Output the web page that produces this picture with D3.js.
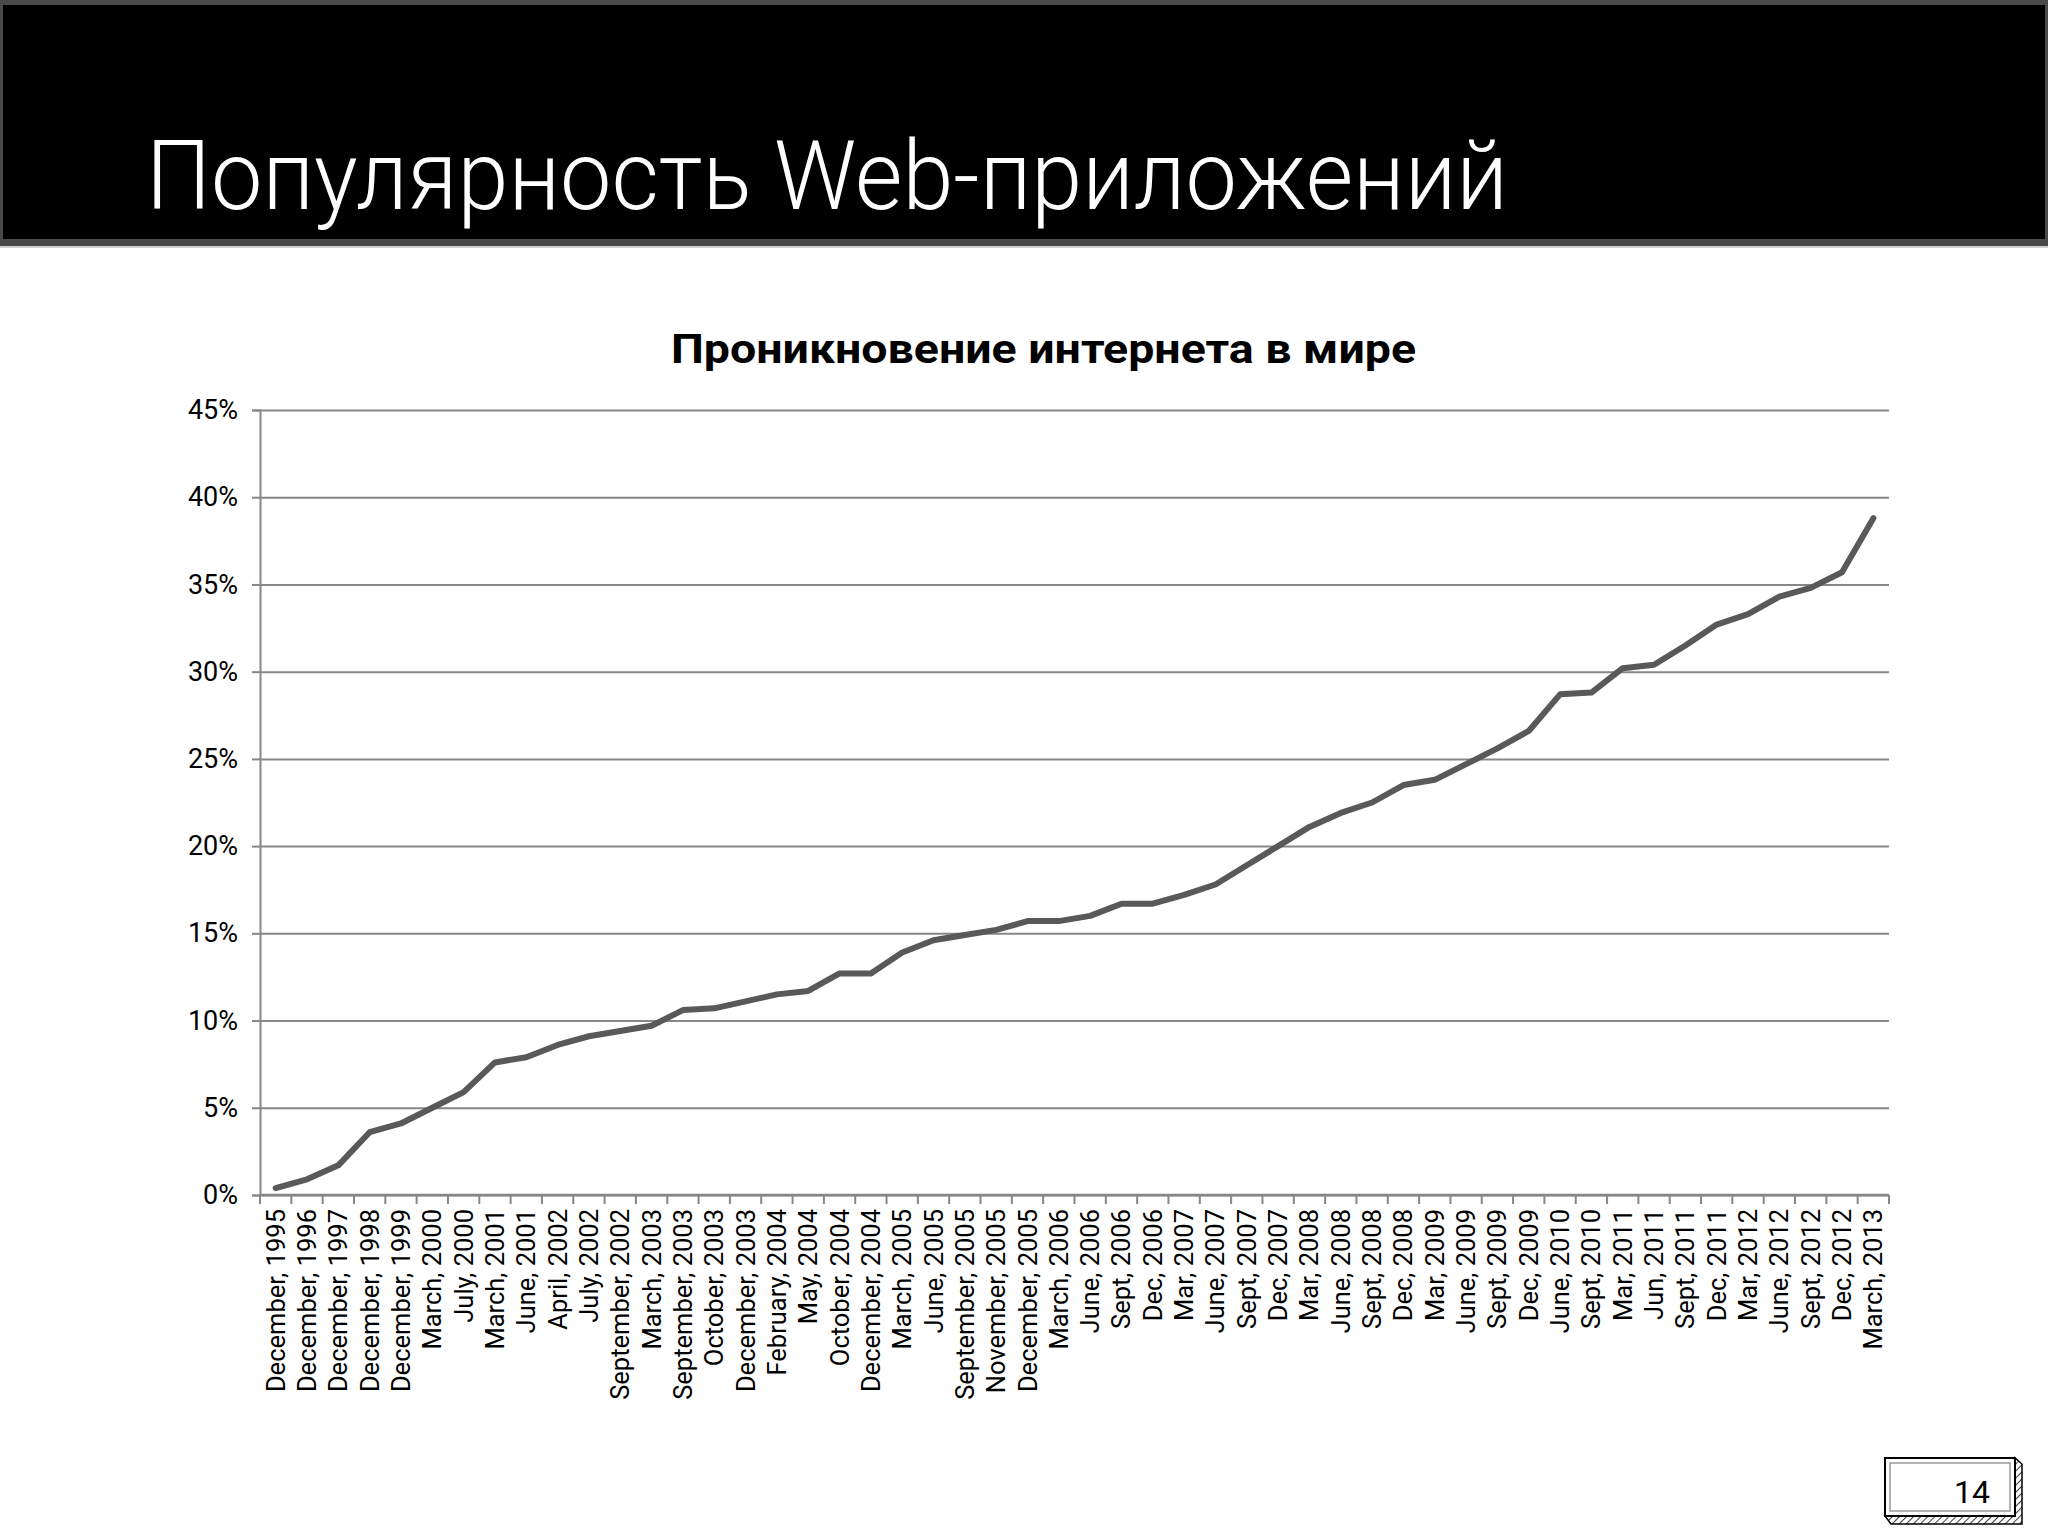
<!DOCTYPE html>
<html lang="ru">
<head>
<meta charset="utf-8">
<script src="https://d3js.org/d3.v7.min.js"></script>
<style>
  body { margin: 0; background: #fff; }
  svg { display: block; }
</style>
</head>
<body>
<svg id="chart"></svg>
<script>
// data
const slideTitle = "Популярность Web-приложений";
const chartTitle = "Проникновение интернета в мире";
const pageNumber = "14";

const dates = [
  "December, 1995", "December, 1996", "December, 1997", "December, 1998", "December, 1999",
  "March, 2000", "July, 2000", "March, 2001", "June, 2001", "April, 2002",
  "July, 2002", "September, 2002", "March, 2003", "September, 2003", "October, 2003",
  "December, 2003", "February, 2004", "May, 2004", "October, 2004", "December, 2004",
  "March, 2005", "June, 2005", "September, 2005", "November, 2005", "December, 2005",
  "March, 2006", "June, 2006", "Sept, 2006", "Dec, 2006", "Mar, 2007",
  "June, 2007", "Sept, 2007", "Dec, 2007", "Mar, 2008", "June, 2008",
  "Sept, 2008", "Dec, 2008", "Mar, 2009", "June, 2009", "Sept, 2009",
  "Dec, 2009", "June, 2010", "Sept, 2010", "Mar, 2011", "Jun, 2011",
  "Sept, 2011", "Dec, 2011", "Mar, 2012", "June, 2012", "Sept, 2012",
  "Dec, 2012", "March, 2013"
];

// percent of world population online
const penetration = [
  0.4, 0.9, 1.7, 3.6, 4.1,
  5.0, 5.9, 7.6, 7.9, 8.6,
  9.1, 9.4, 9.7, 10.6, 10.7,
  11.1, 11.5, 11.7, 12.7, 12.7,
  13.9, 14.6, 14.9, 15.2, 15.7,
  15.7, 16.0, 16.7, 16.7, 17.2,
  17.8, 18.9, 20.0, 21.1, 21.9,
  22.5, 23.5, 23.8, 24.7, 25.6,
  26.6, 28.7, 28.8, 30.2, 30.4,
  31.5, 32.7, 33.3, 34.3, 34.8,
  35.7, 38.8
];

const yTicks = [0, 5, 10, 15, 20, 25, 30, 35, 40, 45];

const W = 2048, H = 1536;
const plot = { left: 260, right: 1889, top: 410, bottom: 1195 };

const svg = d3.select("#chart").attr("width", W).attr("height", H);

// header banner
svg.append("rect").attr("x", 0).attr("y", 0).attr("width", W).attr("height", 246).attr("fill", "#4a4a4a");
svg.append("rect").attr("x", 3).attr("y", 5).attr("width", W - 6).attr("height", 234).attr("fill", "#000");
svg.append("line").attr("x1", 0).attr("x2", W).attr("y1", 247).attr("y2", 247)
  .attr("stroke", "#cfcfcf").attr("stroke-width", 2);

svg.append("text")
  .attr("x", 146).attr("y", 209)
  .attr("fill", "#fff")
  .attr("font-family", "Roboto, 'DejaVu Sans', sans-serif")
  .attr("font-weight", 300)
  .attr("font-size", 96)
  .attr("textLength", 1362)
  .attr("lengthAdjust", "spacingAndGlyphs")
  .text(slideTitle);

// chart title
svg.append("text")
  .attr("x", (670 + 1417) / 2).attr("y", 363)
  .attr("text-anchor", "middle")
  .attr("font-family", "Roboto, 'DejaVu Sans', sans-serif")
  .attr("font-weight", 700)
  .attr("font-size", 40)
  .attr("textLength", 745)
  .attr("lengthAdjust", "spacingAndGlyphs")
  .text(chartTitle);

const x = d3.scaleBand().domain(dates).range([plot.left, plot.right]);
const y = d3.scaleLinear().domain([0, 45]).range([plot.bottom, plot.top]);

const gridColor = "#878787";

// horizontal gridlines
svg.append("g")
  .attr("transform", `translate(${plot.left},0)`)
  .call(d3.axisLeft(y).tickValues(yTicks).tickSize(-(plot.right - plot.left)).tickFormat(""))
  .call(g => g.select(".domain").remove())
  .call(g => g.selectAll("line").attr("stroke", gridColor).attr("stroke-width", 2));

// y axis
svg.append("g")
  .attr("transform", `translate(${plot.left},0)`)
  .call(d3.axisLeft(y).tickValues(yTicks).tickSize(8).tickPadding(14).tickFormat(d => d + "%"))
  .call(g => g.select(".domain").attr("stroke", gridColor).attr("stroke-width", 2))
  .call(g => g.selectAll("line").attr("stroke", gridColor).attr("stroke-width", 2))
  .call(g => g.selectAll("text")
    .attr("fill", "#000")
    .attr("font-family", "Roboto, 'DejaVu Sans', sans-serif")
    .attr("font-size", 27));

// x axis, ticks on band boundaries
const xAxis = svg.append("g").attr("transform", `translate(0,${plot.bottom})`);
xAxis.append("line")
  .attr("x1", plot.left).attr("x2", plot.right)
  .attr("stroke", gridColor).attr("stroke-width", 2.5);
xAxis.selectAll(".tk")
  .data(dates.concat(["end"]))
  .join("line")
  .attr("class", "tk")
  .attr("x1", (d, i) => i < dates.length ? x(d) : plot.right)
  .attr("x2", (d, i) => i < dates.length ? x(d) : plot.right)
  .attr("y1", 0).attr("y2", 9)
  .attr("stroke", gridColor).attr("stroke-width", 2);
xAxis.selectAll(".lbl")
  .data(dates)
  .join("text")
  .attr("class", "lbl")
  .attr("transform", d => `translate(${x(d) + x.bandwidth() / 2 + 9},14) rotate(-90)`)
  .attr("text-anchor", "end")
  .attr("font-family", "Roboto, 'DejaVu Sans', sans-serif")
  .attr("font-size", 25.5)
  .attr("fill", "#000")
  .text(d => d);

// the series line
const line = d3.line()
  .x((d, i) => x(dates[i]) + x.bandwidth() / 2)
  .y(d => y(d));

svg.append("path")
  .datum(penetration)
  .attr("d", line)
  .attr("fill", "none")
  .attr("stroke", "#595959")
  .attr("stroke-width", 6)
  .attr("stroke-linejoin", "round")
  .attr("stroke-linecap", "round");

// page number box
const pg = svg.append("g");
const hatch = svg.append("defs").append("pattern")
  .attr("id", "hatch").attr("width", 5).attr("height", 5)
  .attr("patternUnits", "userSpaceOnUse").attr("patternTransform", "rotate(45)");
hatch.append("rect").attr("width", 5).attr("height", 5).attr("fill", "#fff");
hatch.append("line").attr("x1", 0).attr("y1", 0).attr("x2", 0).attr("y2", 5)
  .attr("stroke", "#000").attr("stroke-width", 1.5);

pg.append("path")
  .attr("d", "M1885,1516 L1891,1524 L2022,1524 L2022,1464 L2015,1458 L2015,1516 Z")
  .attr("fill", "url(#hatch)").attr("stroke", "#000").attr("stroke-width", 1.5);
pg.append("rect").attr("x", 1885).attr("y", 1458).attr("width", 130).attr("height", 58)
  .attr("fill", "#fff").attr("stroke", "#000").attr("stroke-width", 2);
pg.append("rect").attr("x", 1890).attr("y", 1463).attr("width", 120).attr("height", 48)
  .attr("fill", "none").attr("stroke", "#999").attr("stroke-width", 1.5);
pg.append("text")
  .attr("x", 1990).attr("y", 1503)
  .attr("text-anchor", "end")
  .attr("font-family", "Roboto, 'DejaVu Sans', sans-serif")
  .attr("font-size", 32)
  .text(pageNumber);
</script>
</body>
</html>
